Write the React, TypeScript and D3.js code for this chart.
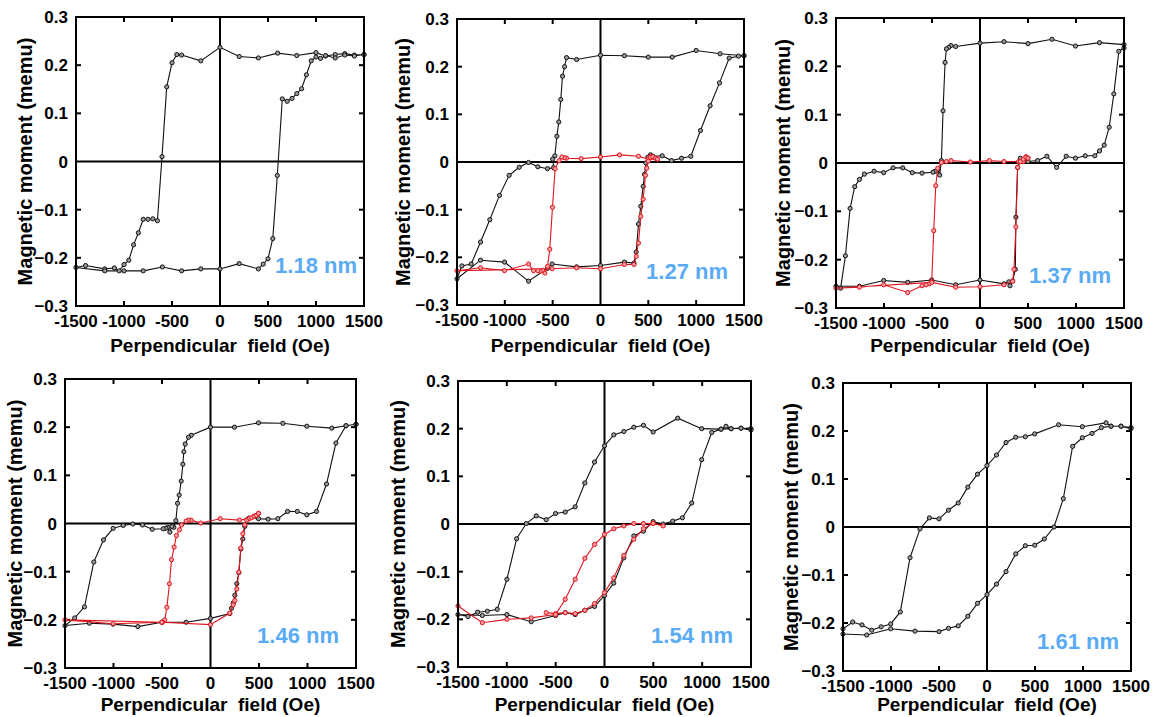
import React from "react";
import * as d3 from "d3";

type Pt = [number, number];

const xTicks = [-1500, -1000, -500, 0, 500, 1000, 1500];
const yTicks = [0.3, 0.2, 0.1, 0, -0.1, -0.2, -0.3];
const innerXTicks = [-1000, -500, 500, 1000];
const innerYTicks = [0.2, 0.1, -0.1, -0.2];
const panelNames = ["1.18 nm", "1.27 nm", "1.37 nm", "1.46 nm", "1.54 nm", "1.61 nm"];

const p1Black: Pt[] = [
  [1500, 0.222], [1400, 0.221], [1300, 0.224], [1200, 0.222], [1100, 0.219], [1000, 0.226], [800, 0.22], [600, 0.225],
  [400, 0.215], [200, 0.218], [0, 0.237], [-200, 0.209], [-400, 0.221], [-450, 0.222], [-500, 0.205], [-555, 0.155],
  [-604, 0.01], [-652, -0.123], [-700, -0.119], [-750, -0.12], [-800, -0.12], [-850, -0.148], [-900, -0.173],
  [-950, -0.205], [-1000, -0.214], [-1050, -0.227], [-1100, -0.221], [-1200, -0.223], [-1400, -0.216], [-1500, -0.22],
  [-1200, -0.227], [-1000, -0.227], [-800, -0.227], [-600, -0.219], [-400, -0.227], [-200, -0.223], [0, -0.223],
  [200, -0.212], [400, -0.223], [450, -0.213], [500, -0.202], [550, -0.16], [597, -0.029], [649, 0.13], [700, 0.125],
  [750, 0.131], [800, 0.141], [850, 0.151], [900, 0.18], [950, 0.209], [1000, 0.217], [1047, 0.214], [1100, 0.22],
  [1200, 0.215], [1300, 0.221], [1400, 0.219], [1500, 0.222],
];
const p1Red: Pt[] = [];

const p2Black: Pt[] = [
  [1500, 0.223], [1250, 0.227], [1000, 0.234], [750, 0.22], [500, 0.22], [250, 0.223], [0, 0.224], [-250, 0.215],
  [-355, 0.219], [-376, 0.2], [-397, 0.18], [-415, 0.131], [-436, 0.084], [-456, 0.054], [-477, 0.013], [-500, 0.006],
  [-490, -0.012], [-554, -0.014], [-655, -0.01], [-752, -0.001], [-850, -0.011], [-955, -0.028], [-1056, -0.07],
  [-1157, -0.121], [-1254, -0.168], [-1352, -0.214], [-1449, -0.218], [-1500, -0.245],
  [-1254, -0.206], [-1003, -0.21], [-752, -0.25], [-554, -0.223], [-505, -0.214], [-250, -0.22], [0, -0.217],
  [250, -0.21], [350, -0.212], [373, -0.189], [397, -0.13], [421, -0.093], [446, -0.051], [460, -0.026],
  [474, -0.002], [495, 0.01], [523, 0.015], [547, 0.012], [645, 0.013], [742, 0.003], [847, 0.008], [944, 0.012],
  [1045, 0.066], [1146, 0.118], [1244, 0.166], [1345, 0.218], [1442, 0.222], [1500, 0.223],
];
const p2Red: Pt[] = [
  [596, 0.006], [547, 0.009], [523, 0.012], [498, 0.006], [397, 0.012], [199, 0.015], [0, 0.0105], [-202, 0.007],
  [-355, 0.008], [-376, 0.009], [-404, 0.0105], [-432, 0.003], [-474, -0.014], [-502, -0.095], [-530, -0.183],
  [-554, -0.219], [-582, -0.233], [-606, -0.227], [-631, -0.229], [-655, -0.228], [-700, -0.228], [-752, -0.214],
  [-1003, -0.228], [-1254, -0.222], [-1500, -0.228],
  [-505, -0.224], [-250, -0.222], [0, -0.224], [250, -0.215], [350, -0.215], [373, -0.198], [397, -0.17],
  [421, -0.114], [446, -0.078], [470, -0.028], [484, -0.013], [500, 0.002], [520, 0.01], [547, 0.011], [575, 0.008],
  [596, 0.006],
];

const p3Black: Pt[] = [
  [1500, 0.245], [1245, 0.249], [995, 0.242], [750, 0.256], [500, 0.247], [250, 0.251], [0, 0.248], [-253, 0.241],
  [-302, 0.243], [-326, 0.239], [-350, 0.236], [-364, 0.208], [-385, 0.108], [-402, 0.005], [-420, -0.025],
  [-441, -0.014], [-465, -0.017], [-490, -0.019], [-604, -0.021], [-705, -0.02], [-805, -0.01], [-905, -0.01],
  [-1003, -0.02], [-1103, -0.017], [-1204, -0.023], [-1256, -0.034], [-1305, -0.049], [-1353, -0.094],
  [-1402, -0.192], [-1452, -0.259], [-1500, -0.255],
  [-1256, -0.255], [-1003, -0.243], [-753, -0.247], [-503, -0.242], [-253, -0.252], [0, -0.242], [250, -0.25],
  [300, -0.246], [312, -0.254], [340, -0.244], [368, -0.22], [374, -0.112], [392, -0.009], [420, 0.01],
  [450, 0.006], [500, 0.003], [600, 0.005], [697, 0.014], [798, -0.009], [898, 0.014], [995, 0.01], [1096, 0.015],
  [1196, 0.015], [1245, 0.025], [1294, 0.037], [1346, 0.074], [1394, 0.143], [1446, 0.231], [1500, 0.238],
];
const p3Red: Pt[] = [
  [500, 0.01], [479, 0.013], [451, 0.003], [402, 0.003], [250, 0.003], [97, 0.005], [-100, 0.002], [-302, 0.005],
  [-350, 0.003], [-402, 0.001], [-441, -0.011], [-461, -0.047], [-482, -0.14], [-503, -0.245], [-527, -0.25],
  [-562, -0.252], [-604, -0.254], [-753, -0.268], [-1003, -0.252], [-1256, -0.257], [-1500, -0.259],
  [-503, -0.247], [-253, -0.257], [0, -0.256], [250, -0.252], [340, -0.245], [354, -0.22], [374, -0.132],
  [392, -0.009], [420, 0.003], [451, 0.008], [479, 0.012], [500, 0.01],
];

const p4Black: Pt[] = [
  [1500, 0.206], [1397, 0.203], [1250, 0.198], [993, 0.202], [746, 0.208], [495, 0.209], [247, 0.2], [0, 0.2],
  [-199, 0.183], [-227, 0.179], [-261, 0.165], [-275, 0.149], [-285, 0.123], [-302, 0.088], [-323, 0.059],
  [-340, 0.042], [-357, 0.006], [-378, -0.008], [-398, -0.006], [-419, -0.018], [-440, -0.008], [-460, -0.01],
  [-488, -0.011], [-601, -0.012], [-701, -0.003], [-801, -0.001], [-900, -0.004], [-1003, -0.01], [-1103, -0.034],
  [-1203, -0.08], [-1299, -0.173], [-1400, -0.196], [-1500, -0.212],
  [-1249, -0.207], [-1003, -0.209], [-749, -0.214], [-502, -0.205], [-251, -0.205], [0, -0.197], [199, -0.187],
  [216, -0.176], [234, -0.165], [251, -0.149], [271, -0.125], [292, -0.102], [313, -0.053], [333, -0.032],
  [354, -0.006], [375, 0.008], [395, 0.011], [495, 0.01], [595, 0.009], [694, 0.01], [794, 0.025], [894, 0.025],
  [993, 0.018], [1093, 0.025], [1196, 0.082], [1293, 0.167], [1397, 0.203], [1500, 0.206],
];
const p4Red: Pt[] = [
  [495, 0.021], [474, 0.017], [450, 0.015], [395, 0.01], [299, 0.007], [100, 0.01], [-100, 0.001], [-199, 0.007],
  [-227, 0.007], [-251, 0.005], [-299, -0.003], [-320, -0.013], [-351, -0.025], [-375, -0.049], [-402, -0.075],
  [-423, -0.125], [-450, -0.174], [-471, -0.2], [-495, -0.205], [-1003, -0.208], [-1500, -0.2],
  [-502, -0.205], [0, -0.21], [199, -0.186], [234, -0.169], [251, -0.16], [271, -0.136], [292, -0.101],
  [313, -0.051], [333, -0.021], [354, -0.003], [375, 0.007], [402, 0.011], [425, 0.012], [450, 0.015],
  [474, 0.017], [495, 0.021],
];

const p5Black: Pt[] = [
  [1500, 0.2], [1398, 0.201], [1296, 0.2], [1244, 0.205], [1193, 0.199], [995, 0.2], [750, 0.222], [498, 0.193],
  [399, 0.207], [300, 0.203], [198, 0.194], [95, 0.187], [0, 0.164], [-102, 0.13], [-201, 0.086], [-300, 0.036],
  [-402, 0.025], [-501, 0.022], [-597, 0.009], [-699, 0.017], [-801, 0.001], [-900, -0.031], [-999, -0.116],
  [-1098, -0.179], [-1200, -0.183], [-1299, -0.185], [-1398, -0.194], [-1500, -0.19],
  [-1251, -0.192], [-999, -0.19], [-750, -0.205], [-501, -0.192], [-402, -0.186], [-300, -0.19], [-201, -0.181],
  [-102, -0.173], [0, -0.15], [95, -0.124], [198, -0.071], [300, -0.025], [399, -0.015], [498, 0.005], [600, 0.0],
  [699, 0.006], [798, 0.013], [893, 0.044], [995, 0.135], [1098, 0.192], [1193, 0.199], [1296, 0.2], [1398, 0.201],
  [1500, 0.197],
];
const p5Red: Pt[] = [
  [-597, -0.186], [-501, -0.188], [-402, -0.186], [-300, -0.188], [-201, -0.181], [-102, -0.167], [0, -0.144],
  [95, -0.113], [198, -0.066], [300, -0.032], [399, -0.01], [498, 0.002], [600, -0.004],
  [498, 0.001], [399, 0.001], [300, 0.001], [198, -0.004], [95, -0.01], [0, -0.022], [-102, -0.043],
  [-201, -0.072], [-300, -0.116], [-402, -0.158], [-501, -0.19], [-750, -0.197], [-999, -0.2], [-1251, -0.207],
  [-1500, -0.172],
];

const p6Black: Pt[] = [
  [1500, 0.207], [1396, 0.21], [1292, 0.21], [1240, 0.217], [993, 0.209], [746, 0.213], [497, 0.194], [399, 0.188],
  [299, 0.187], [198, 0.176], [99, 0.15], [0, 0.128], [-99, 0.11], [-200, 0.083], [-300, 0.05], [-401, 0.035],
  [-500, 0.017], [-600, 0.019], [-698, -0.004], [-802, -0.064], [-903, -0.177], [-1003, -0.202], [-1103, -0.208],
  [-1201, -0.215], [-1302, -0.204], [-1399, -0.198], [-1500, -0.212],
  [-1500, -0.223], [-1253, -0.225], [-1003, -0.212], [-750, -0.217], [-500, -0.218], [-401, -0.211], [-300, -0.206],
  [-200, -0.186], [-99, -0.159], [0, -0.141], [99, -0.119], [198, -0.093], [299, -0.056], [399, -0.039],
  [497, -0.038], [597, -0.025], [698, 0.0], [795, 0.059], [892, 0.168], [993, 0.186], [1094, 0.195], [1191, 0.207],
  [1292, 0.21], [1396, 0.21], [1500, 0.205],
];
const p6Red: Pt[] = [];

const blackSeries = [p1Black, p2Black, p3Black, p4Black, p5Black, p6Black];
const redSeries = [p1Red, p2Red, p3Red, p4Red, p5Red, p6Red];

// layout (pixel boxes of each plot frame)
const layout = [
  { l: 76, t: 17, r: 364, b: 306, yl: 44, lx: 7, ly: 33, xb: 352 },
  { l: 457, t: 19, r: 744, b: 305, yl: 47, lx: 16, ly: 26, xb: 352 },
  { l: 836, t: 18, r: 1124, b: 308, yl: 46, lx: 13, ly: 25, xb: 352 },
  { l: 65, t: 379, r: 356, b: 668, yl: 43, lx: 17, ly: 25, xb: 711 },
  { l: 458, t: 381, r: 751, b: 667, yl: 53, lx: 18, ly: 24, xb: 711 },
  { l: 843, t: 383, r: 1131, b: 671, yl: 45, lx: 12, ly: 22, xb: 711 },
];

const FONT = "'Liberation Sans', Arial, Helvetica, sans-serif";

function Panel({ i }: { i: number }) {
  const L = layout[i];
  const x = d3.scaleLinear().domain([-1500, 1500]).range([L.l, L.r]);
  const y = d3.scaleLinear().domain([-0.3, 0.3]).range([L.b, L.t]);
  const line = d3
    .line<Pt>()
    .x((d) => x(d[0]))
    .y((d) => y(d[1]));
  const tl = 5;
  const fmtY = (v: number) => (v === 0 ? "0" : d3.format(".1f")(v));
  const series = [
    { data: blackSeries[i], stroke: "#111", fill: "#9a9a9a" },
    { data: redSeries[i], stroke: "#e0141e", fill: "#f5a0a0" },
  ];
  const cx = (L.l + L.r) / 2;
  const cy = (L.t + L.b) / 2;
  return (
    <g fontFamily={FONT} fontWeight="bold">
      {innerYTicks.map((v) => (
        <g key={"yt" + v}>
          <line x1={L.l} x2={L.l + tl} y1={y(v)} y2={y(v)} stroke="#000" strokeWidth={2} />
          <line x1={L.r} x2={L.r - tl} y1={y(v)} y2={y(v)} stroke="#000" strokeWidth={2} />
        </g>
      ))}
      {innerXTicks.map((v) => (
        <g key={"xt" + v}>
          <line x1={x(v)} x2={x(v)} y1={L.b} y2={L.b - tl} stroke="#000" strokeWidth={2} />
          <line x1={x(v)} x2={x(v)} y1={L.t} y2={L.t + tl} stroke="#000" strokeWidth={2} />
        </g>
      ))}
      <line x1={L.l} x2={L.r} y1={y(0)} y2={y(0)} stroke="#000" strokeWidth={2} />
      <line x1={x(0)} x2={x(0)} y1={L.t} y2={L.b} stroke="#000" strokeWidth={2} />
      {series.map((s, k) =>
        s.data.length ? (
          <g key={"s" + k}>
            <path d={line(s.data) || ""} fill="none" stroke={s.stroke} strokeWidth={1.1} />
            {s.data.map((d, j) => (
              <circle key={j} cx={x(d[0])} cy={y(d[1])} r={2.1} fill={s.fill} stroke={s.stroke} strokeWidth={1} />
            ))}
          </g>
        ) : null
      )}
      <rect x={L.l} y={L.t} width={L.r - L.l} height={L.b - L.t} fill="none" stroke="#000" strokeWidth={2} />
      {yTicks.map((v) => (
        <text key={"yl" + v} x={L.l - 8} y={y(v)} dy="0.36em" textAnchor="end" fontSize={17} fill="#000">
          {fmtY(v)}
        </text>
      ))}
      {xTicks.map((v) => (
        <text key={"xl" + v} x={x(v)} y={L.b + 21} textAnchor="middle" fontSize={17} fill="#000">
          {v}
        </text>
      ))}
      <text x={cx} y={L.xb} textAnchor="middle" fontSize={19} fill="#000" style={{ whiteSpace: "pre" }}>
        {"Perpendicular\u00a0\u00a0field (Oe)"}
      </text>
      <text
        transform={`translate(${L.l - L.yl},${cy}) rotate(-90)`}
        textAnchor="middle"
        fontSize={20}
        fill="#000"
      >
        Magnetic moment (memu)
      </text>
      <text x={L.r - L.lx} y={L.b - L.ly} textAnchor="end" fontSize={22} fill="#5AABF5">
        {panelNames[i]}
      </text>
    </g>
  );
}

export default function App() {
  return (
    <svg
      width={1155}
      height={717}
      style={{ position: "absolute", left: 0, top: 0, background: "#fff" }}
    >
      <rect x={0} y={0} width={1155} height={717} fill="#fff" />
      {layout.map((_, i) => (
        <Panel key={i} i={i} />
      ))}
    </svg>
  );
}
